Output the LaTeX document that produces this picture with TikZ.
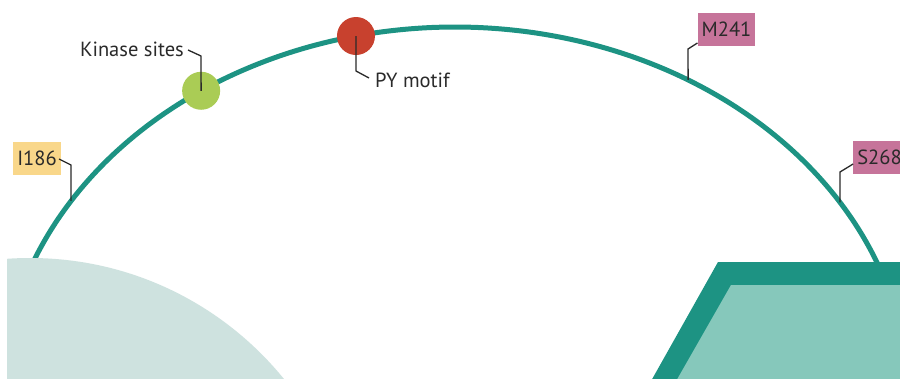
\documentclass[tikz,border=0pt]{standalone}
\usepackage{fontspec}
\setmainfont{PT Sans}
\definecolor{teal1}{HTML}{1D9383}
\definecolor{tealfill}{HTML}{86C8BB}
\definecolor{pale}{HTML}{CEE2DF}
\definecolor{kin}{HTML}{AACC55}
\definecolor{pyred}{HTML}{C8412E}
\definecolor{ybox}{HTML}{F9D78A}
\definecolor{pbox}{HTML}{C6749A}
\definecolor{ink}{HTML}{2A2A2A}
\tikzset{
  lbl/.style={font=\fontsize{20.5}{24}\selectfont, text=ink, inner sep=0pt},
  tagbox/.style={lbl, minimum height=33pt, inner xsep=4pt},
  leader/.style={draw=ink, line width=1.3pt},
  site/.style={circle, minimum size=38pt, inner sep=0pt}
}
\begin{document}
\begin{tikzpicture}[x=1pt,y=-1pt]
\clip (0,0) rectangle (900,378);
\fill[white] (0,0) rectangle (900,378);
% arc
\draw[teal1, line width=5pt] plot[domain=160:20, samples=120, smooth] ({455+454*cos(\x)},{400-373*sin(\x)});
% left pale disc
\begin{scope}
\clip (7,0) rectangle (900,378);
\fill[pale] (30,585) circle[radius=327pt];
\end{scope}
% right trapezoid
\fill[teal1] (718,262) -- (910,262) -- (910,390) -- (646,390) -- cycle;
\fill[tealfill] (731,285) -- (910,285) -- (910,390) -- (671,390) -- cycle;
% points on arc
\coordinate (pI) at ({455+454*cos(147.75)},{400-373*sin(147.75)});
\coordinate (pK) at ({455+454*cos(124.0)},{400-373*sin(124.0)});
\coordinate (pP) at ({455+454*cos(102.6)},{400-373*sin(102.6)});
\coordinate (pM) at ({455+454*cos(59.1)},{400-373*sin(59.1)});
\coordinate (pS) at ({455+454*cos(32.0)},{400-373*sin(32.0)});
% sites
\node[site, fill=kin] (kin) at (pK) {};
\node[site, fill=pyred] (py) at (pP) {};
% labels
\node[tagbox, fill=ybox, minimum width=40pt] (I) at (37,158.5) {I186};
\node[tagbox, fill=pbox, minimum width=51pt] (M) at (726.5,29.5) {M241};
\node[tagbox, fill=pbox, minimum width=51pt] (S) at (879.5,157.5) {S268};
\node[lbl, anchor=base east] (kt) at (184,56) {Kinase sites};
\node[lbl, anchor=base west] (pt) at (375,87) {PY motif};
% leaders
\coordinate (bI) at (71,165);
\coordinate (bK) at (201,56);
\coordinate (bP) at (356,71);
\coordinate (bM) at (688,49);
\coordinate (bS) at (840,172);
\draw[leader] (59,159) -- (bI) -- (pI);
\draw[leader] (188,50) -- (bK) -- (kin.center);
\draw[leader] (py.center) -- (bP) -- (369,78);
\draw[leader] (M.west |- 0,43) -- (bM) -- (pM);
\draw[leader] (S.west |- 0,164) -- (bS) -- (pS);
\end{tikzpicture}
\end{document}
